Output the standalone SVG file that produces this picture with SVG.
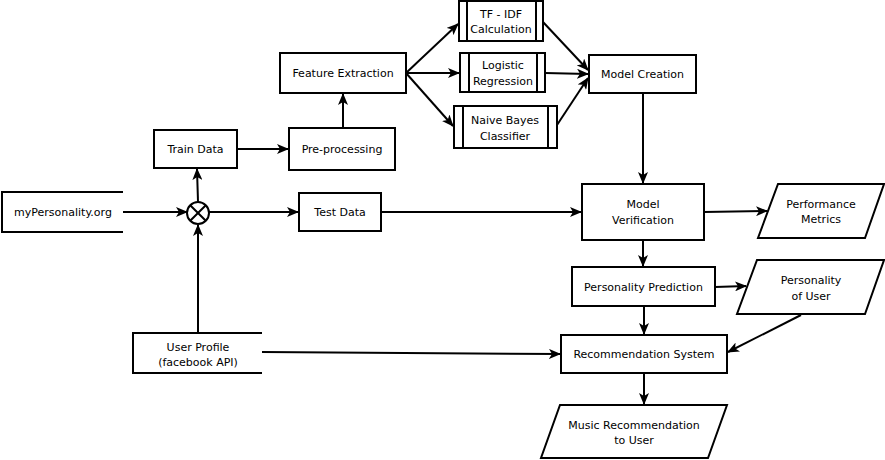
<svg xmlns="http://www.w3.org/2000/svg" width="885" height="460" viewBox="0 0 885 460">
<style>
.b{fill:#fff;stroke:#000;stroke-width:2}
.o{fill:none;stroke:#000;stroke-width:2}
.t{font-family:"DejaVu Sans",Verdana,sans-serif;font-size:11px;fill:#000;text-anchor:middle}
.c{fill:none;stroke:#000;stroke-width:2;marker-end:url(#a)}
</style>
<defs>
<marker id="a" viewBox="0 0 12 10" refX="11" refY="5" markerWidth="12" markerHeight="10" markerUnits="userSpaceOnUse" orient="auto">
<path d="M0,0 L12,5 L0,10 L3,5 z" fill="#000"/>
</marker>
</defs>
<g id="connectors">
<path class="c" d="M123,212 L187,212"/>
<path class="c" d="M198,333 L198,225"/>
<path class="c" d="M198,202 L197,169"/>
<path class="c" d="M209,212 L298,212"/>
<path class="c" d="M237,149 L288,149"/>
<path class="c" d="M343,128 L343,94"/>
<path class="c" d="M406,73 L458,24"/>
<path class="c" d="M406,73 L459,73"/>
<path class="c" d="M406,73 L453,126"/>
<path class="c" d="M543,22 L588,70"/>
<path class="c" d="M545,73 L588,74"/>
<path class="c" d="M557,125 L588,78"/>
<path class="c" d="M643,93 L643,183"/>
<path class="c" d="M381,212 L581,212"/>
<path class="c" d="M704,212 L767,211"/>
<path class="c" d="M643,240 L643,266"/>
<path class="c" d="M715,287 L746,286"/>
<path class="c" d="M644,306 L644,334"/>
<path class="c" d="M801,315 L728,352"/>
<path class="c" d="M262,352 L560,354"/>
<path class="c" d="M644,373 L644,404"/>
</g>
<g id="mypersonality">
<path class="o" d="M123,192 L2,192 L2,232 L123,232"/>
<text class="t" x="63" y="216">myPersonality.org</text>
</g>
<g id="junction">
<circle class="b" cx="198" cy="213" r="11"/>
<path class="o" d="M190.2,205.2 L205.8,220.8 M205.8,205.2 L190.2,220.8"/>
</g>
<g id="train">
<rect class="b" x="154" y="130" width="83" height="38"/>
<text class="t" x="195.5" y="153">Train Data</text>
</g>
<g id="pre">
<rect class="b" x="289" y="128" width="106" height="42"/>
<text class="t" x="342" y="153">Pre-processing</text>
</g>
<g id="feature">
<rect class="b" x="280" y="53" width="126" height="40"/>
<text class="t" x="343" y="77">Feature Extraction</text>
</g>
<g id="tfidf">
<rect class="b" x="459" y="1" width="84" height="40"/>
<path class="o" d="M467,1 V41 M536,1 V41"/>
<text class="t" x="501" y="18">TF - IDF</text>
<text class="t" x="501" y="33">Calculation</text>
</g>
<g id="logistic">
<rect class="b" x="460" y="53" width="85" height="39"/>
<path class="o" d="M469,53 V92 M537,53 V92"/>
<text class="t" x="503" y="69">Logistic</text>
<text class="t" x="503" y="85">Regression</text>
</g>
<g id="naive">
<rect class="b" x="454" y="106" width="103" height="42"/>
<path class="o" d="M463,106 V148 M548,106 V148"/>
<text class="t" x="505" y="124">Naive Bayes</text>
<text class="t" x="505" y="140">Classifier</text>
</g>
<g id="modelcreation">
<rect class="b" x="589" y="55" width="107" height="38"/>
<text class="t" x="642.5" y="78">Model Creation</text>
</g>
<g id="test">
<rect class="b" x="299" y="193" width="82" height="38"/>
<text class="t" x="340" y="216">Test Data</text>
</g>
<g id="verification">
<rect class="b" x="582" y="184" width="122" height="56"/>
<text class="t" x="643" y="208">Model</text>
<text class="t" x="643" y="224">Verification</text>
</g>
<g id="performance">
<path class="b" d="M778,184 L884,184 L865,238 L758,238 Z"/>
<text class="t" x="821" y="208">Performance</text>
<text class="t" x="821" y="223">Metrics</text>
</g>
<g id="prediction">
<rect class="b" x="572" y="267" width="143" height="39"/>
<text class="t" x="643.5" y="291">Personality Prediction</text>
</g>
<g id="personality">
<path class="b" d="M757,260 L884,260 L865,314 L737,314 Z"/>
<text class="t" x="811" y="284">Personality</text>
<text class="t" x="811" y="300">of User</text>
</g>
<g id="userprofile">
<path class="o" d="M262,333 L133,333 L133,373 L262,373"/>
<text class="t" x="198" y="351">User Profile</text>
<text class="t" x="198" y="366">(facebook API)</text>
</g>
<g id="recsys">
<rect class="b" x="561" y="335" width="166" height="38"/>
<text class="t" x="644" y="358">Recommendation System</text>
</g>
<g id="music">
<path class="b" d="M560,405 L727,405 L708,458 L541,458 Z"/>
<text class="t" x="634" y="429">Music Recommendation</text>
<text class="t" x="634" y="444">to User</text>
</g>
</svg>
